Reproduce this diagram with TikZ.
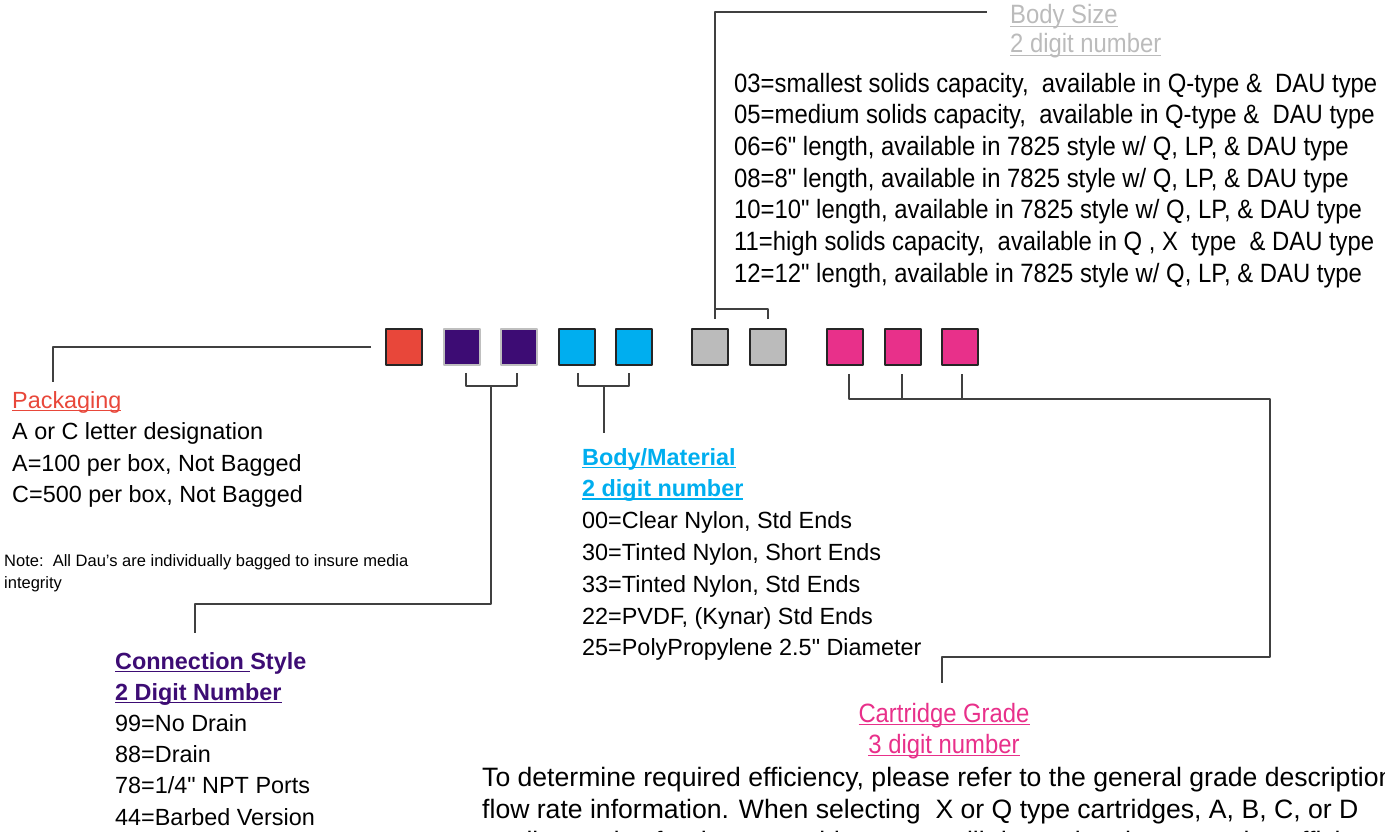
\documentclass[tikz,border=0pt]{standalone}
\usepackage{fontspec}
\setmainfont{Liberation Sans}
\newfontfamily\plainfont{Liberation Sans}
\newfontfamily\narrowfont[FakeStretch=0.9]{Liberation Sans}

\definecolor{pkgred}{HTML}{E8473A}
\definecolor{conpurple}{HTML}{3D0C74}
\definecolor{matcyan}{HTML}{00AEEF}
\definecolor{sizegray}{HTML}{BBBBBB}
\definecolor{gradepink}{HTML}{E8308A}

% underline at a fixed depth, through the descenders
\newcommand\ul[1]{\setbox0\hbox{#1}\rlap{\rule[-0.13em]{\wd0}{0.06em}}\box0}

\tikzset{
  cell/.style={line width=1.8pt, minimum width=36pt, minimum height=36pt, inner sep=0pt},
  pkcell/.style={cell, draw=black!85, fill=pkgred},
  cscell/.style={cell, draw=black!25, fill=conpurple},
  mtcell/.style={cell, draw=black!85, fill=matcyan},
  szcell/.style={cell, draw=black!85, fill=sizegray},
  grcell/.style={cell, draw=black!85, fill=gradepink},
  lead/.style={draw=black!75, line width=1.2pt},
  % multi-line nodes sit on the baseline of their last line
  lefttxt/.style={anchor=base west, inner sep=0pt, align=left, font=\plainfont\fontsize{23.4}{31.6}\selectfont},
  narrowtxt/.style={anchor=base west, inner sep=0pt, align=left, font=\narrowfont\fontsize{26.5}{31.7}\selectfont}
}

\begin{document}
\begin{tikzpicture}[x=1pt, y=-1pt, line join=round]
  \useasboundingbox (0,0) rectangle (1385,832);
  \clip (0,0) rectangle (1385,832);

  % the ten code cells
  \foreach \nm/\cx/\sty in {pk/404/pkcell, cs1/462/cscell, cs2/519/cscell,
      mt1/577/mtcell, mt2/634/mtcell, sz1/710/szcell, sz2/768/szcell,
      gr1/845/grcell, gr2/903/grcell, gr3/960/grcell}
    \node[\sty] (\nm) at (\cx,347) {};

  % leader lines
  \draw[lead] ([xshift=-14pt]pk.west) -| (53,382);
  \draw[lead] ([xshift=4pt]cs1.south) ++(0,7) |- (517,386) -- (517,373);
  \draw[lead] (491,386) |- (195,604) -- (195,633);
  \draw[lead] ([xshift=1pt]mt1.south) ++(0,7) |- (629,386) -- (629,373);
  \draw[lead] (604,386) -- (604,433);
  \draw[lead] (768,319) |- (715,309);
  \draw[lead] ([xshift=5pt]sz1.north) ++(0,-9) |- (987,12);
  \draw[lead] ([xshift=4pt]gr1.south) ++(0,8) |- (1270,399) |- (942,657) -- (942,683);
  \draw[lead] (902,374) -- (902,399);
  \draw[lead] (962,374) -- (962,399);

  % Body Size
  \node[narrowtxt, text=sizegray] (szhead) at (1010,24) {\ul{Body Size}};
  \node[narrowtxt, text=sizegray] (szsub) at (1010,53) {\ul{2 digit number}};
  \node[narrowtxt] (szlist) at (734,282.2) {03=smallest solids capacity,\ \ available in Q-type \&\ \ DAU type\\
    05=medium solids capacity,\ \ available in Q-type \&\ \ DAU type\\
    06=6" length, available in 7825 style w/ Q, LP, \& DAU type\\
    08=8" length, available in 7825 style w/ Q, LP, \& DAU type\\
    10=10" length, available in 7825 style w/ Q, LP, \& DAU type\\
    11=high solids capacity,\ \ available in Q , X\ \ type\ \ \& DAU type\\
    12=12" length, available in 7825 style w/ Q, LP, \& DAU type};

  % Packaging
  \node[lefttxt] (pkhead) at (12,502.8) {\textcolor{pkgred}{\ul{Packaging}}\\
    A or C letter designation\\A=100 per box, Not Bagged\\C=500 per box, Not Bagged};
  \node[lefttxt, font=\plainfont\fontsize{16.5}{22}\selectfont] (note) at (4,588)
    {Note:\ \ All Dau’s are individually bagged to insure media\\integrity};

  % Body/Material
  \node[lefttxt, font=\plainfont\fontsize{23.4}{31.8}\selectfont] (mthead) at (582,655.8)
    {\textcolor{matcyan}{\bfseries\ul{Body/Material}}\\\textcolor{matcyan}{\bfseries\ul{2 digit number}}\\
    00=Clear Nylon, Std Ends\\30=Tinted Nylon, Short Ends\\33=Tinted Nylon, Std Ends\\
    22=PVDF, (Kynar) Std Ends\\25=PolyPropylene 2.5" Diameter};

  % Connection Style
  \node[lefttxt, font=\plainfont\fontsize{23.4}{31.2}\selectfont] (cshead) at (115,825)
    {\textcolor{conpurple}{\bfseries\ul{Connection\ }Style}\\\textcolor{conpurple}{\bfseries\ul{2 Digit Number}}\\
    99=No Drain\\88=Drain\\78=1/4" NPT Ports\\44=Barbed Version};

  % Cartridge Grade
  \node[narrowtxt, anchor=base, align=center, text=gradepink, font=\narrowfont\fontsize{26.5}{31}\selectfont]
    (grhead) at (944,753) {\ul{Cartridge Grade}\\\ul{3 digit number}};
  \node[lefttxt, font=\plainfont\fontsize{26.6}{32}\selectfont] (grtext) at (482,850)
    {To determine required efficiency, please refer to the general grade description and\\
    flow rate information. When selecting\ \ X or Q type cartridges, A, B, C, or D\\
    quality grades for these cartridge types will determine the saturation efficiency};
\end{tikzpicture}
\end{document}
